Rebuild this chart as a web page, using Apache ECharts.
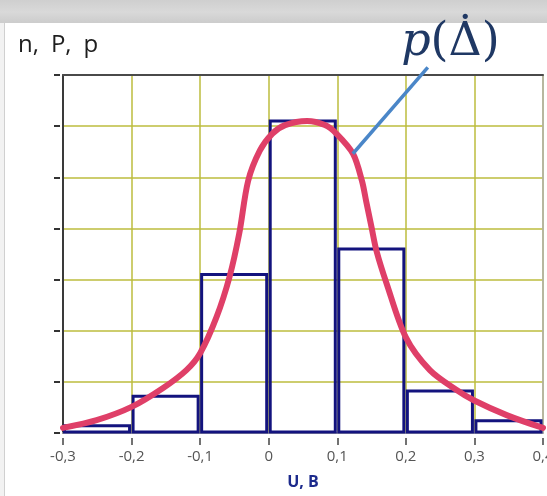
<!DOCTYPE html>
<html>
<head>
<meta charset="utf-8">
<script src="https://cdn.jsdelivr.net/npm/echarts@6/dist/echarts.min.js"></script>
<style>
  html, body { margin: 0; padding: 0; width: 547px; height: 496px; overflow: hidden; }
  body {
    background: linear-gradient(180deg, #cfcfcf 0px, #d9d9d9 12px, #cdcdcd 22px);
  }
  #sheet {
    position: absolute; left: 4px; top: 23px; right: 0; bottom: 0;
    background: #ffffff; border-left: 1px solid #d0d0d0;
  }
  #edge { position: absolute; left: 0; top: 23px; width: 4px; bottom: 0; background: #f2f2f2; }
  #chart { position: absolute; left: 0; top: 0; width: 547px; height: 496px; }
</style>
</head>
<body>
<div id="edge"></div>
<div id="sheet"></div>
<div id="chart"></div>
<script>
// Histogram bins (U, B) and their heights
const binEdges = [-0.3, -0.2, -0.1, 0, 0.1, 0.2, 0.3, 0.4];
const binCounts = [0.14, 0.72, 3.1, 6.1, 3.6, 0.82, 0.24];

// Density curve p(Δ) sampled along U
const curveU = [-0.3, -0.251, -0.2, -0.154, -0.12, -0.1, -0.076, -0.057, -0.043, -0.03, -0.013, 0.005, 0.024, 0.056,
                0.082, 0.099, 0.123, 0.136, 0.142, 0.15, 0.157, 0.172, 0.2, 0.235, 0.274, 0.299, 0.347, 0.4];
const curveP = [0.1, 0.25, 0.51, 0.88, 1.23, 1.56, 2.27, 3.06, 3.9, 4.93, 5.52, 5.85, 6.02, 6.1,
                6.02, 5.85, 5.46, 4.93, 4.54, 4.02, 3.57, 2.92, 1.87, 1.23, 0.84, 0.64, 0.35, 0.1];

// Axis tick labels
const xTickLabels = ['-0,3', '-0,2', '-0,1', '0', '0,1', '0,2', '0,3', '0,4'];
const tickStep = 0.1;

// Callout: curve point it points at, and where the formula sits
const calloutFrom = [0.1227, 5.46];
const calloutTo = [0.232, 7.15];
const calloutText = [0.265, 7.62];

const histData = binCounts.map((c, i) => [binEdges[i], binEdges[i + 1], c]);
const curveData = curveU.map((u, i) => [u, curveP[i]]);

const chart = echarts.init(document.getElementById('chart'), null, { renderer: 'canvas' });

const gridColor = '#bcbc3e';
const formulaColor = '#1f3864';
const formulaSize = 46;
const yLabelTitle = {
  type: 'text', left: 18, top: 33, z: 10,
  style: { text: 'n,\u2002P,\u2002p', fill: '#1e1e1e', font: '24px "Open Sans", sans-serif' }
};

chart.setOption({
  animation: false,
  backgroundColor: 'transparent',
  grid: { left: 63, right: 4, top: 75, bottom: 63, containLabel: false, outerBoundsMode: 'none' },
  xAxis: [
    {
      type: 'value', min: -0.3, max: 0.4, interval: tickStep,
      axisLine: { show: true, onZero: false, lineStyle: { color: '#a8a8a8', width: 2 } },
      axisTick: { show: false },
      axisLabel: { show: false },
      splitLine: { show: true, lineStyle: { color: gridColor, width: 1.5 } },
      name: 'U, B', nameLocation: 'middle', nameGap: 41,
      nameTextStyle: { color: '#1c2a8c', fontSize: 16, fontWeight: 'bold', fontFamily: 'Open Sans' }
    },
    {
      type: 'value', min: -0.3, max: 0.4, interval: tickStep, position: 'bottom', offset: 5,
      axisLine: { show: false, onZero: false },
      axisTick: { show: true, length: 7, lineStyle: { color: '#444', width: 1.5 } },
      axisLabel: {
        show: true, margin: 11, color: '#555', fontSize: 15, fontFamily: 'Open Sans',
        formatter: v => xTickLabels[Math.round((v - binEdges[0]) / tickStep)]
      },
      splitLine: { show: false }
    },
    {
      type: 'value', min: -0.3, max: 0.4, interval: tickStep, position: 'top',
      axisLine: { show: true, onZero: false, lineStyle: { color: '#4a4a4a', width: 2 } },
      axisTick: { show: false }, axisLabel: { show: false }, splitLine: { show: false }
    }
  ],
  yAxis: [
    {
      type: 'value', min: 0, max: 7, interval: 1, position: 'left',
      axisLine: { show: true, onZero: false, lineStyle: { color: '#3a3a3a', width: 2 } },
      axisTick: { show: false },
      axisLabel: { show: false },
      splitLine: { show: true, lineStyle: { color: gridColor, width: 1.5 } }
    },
    {
      type: 'value', min: 0, max: 7, interval: 1, position: 'left', offset: 3,
      axisLine: { show: false, onZero: false },
      axisTick: { show: true, length: 6, lineStyle: { color: '#333', width: 2 } },
      axisLabel: { show: false }, splitLine: { show: false }
    },
    {
      type: 'value', min: 0, max: 7, interval: 1, position: 'right',
      axisLine: { show: true, onZero: false, lineStyle: { color: '#b0b0b0', width: 1.5 } },
      axisTick: { show: false }, axisLabel: { show: false }, splitLine: { show: false }
    }
  ],
  series: [
    {
      type: 'custom',
      name: 'n',
      xAxisIndex: 0, yAxisIndex: 0,
      data: histData,
      encode: { x: [0, 1], y: 2 },
      renderItem: function (params, api) {
        const topLeft = api.coord([api.value(0), api.value(2)]);
        const bottomRight = api.coord([api.value(1), 0]);
        return {
          type: 'rect',
          shape: {
            x: topLeft[0] + 1.5,
            y: topLeft[1],
            width: bottomRight[0] - topLeft[0] - 3.5,
            height: bottomRight[1] - topLeft[1] - 1
          },
          style: { fill: 'none', stroke: '#13137e', lineWidth: 3 }
        };
      },
      z: 3
    },
    {
      type: 'line',
      name: 'p',
      xAxisIndex: 0, yAxisIndex: 0,
      data: curveData,
      smooth: 0.3,
      symbol: 'none',
      lineStyle: { color: '#df3f68', width: 6, cap: 'round', join: 'round' },
      z: 4
    }
  ],
  graphic: [yLabelTitle]
});

// Callout line and formula label, positioned through the grid's own scales
const a = chart.convertToPixel({ gridIndex: 0 }, calloutFrom);
const b = chart.convertToPixel({ gridIndex: 0 }, calloutTo);
const t = chart.convertToPixel({ gridIndex: 0 }, calloutText);

// Measure the formula pieces so the dot can sit over the Δ
const ctx = document.createElement('canvas').getContext('2d');
ctx.font = 'italic ' + formulaSize + 'px "DejaVu Serif"';
const wP = ctx.measureText('p').width;
ctx.font = formulaSize + 'px "DejaVu Serif"';
const wOpen = ctx.measureText('(').width;
const wDelta = ctx.measureText('Δ').width;
const wAll = wP + ctx.measureText('(Δ)').width;
const formulaLeft = t[0] - wAll / 2;
const dotX = formulaLeft + wP + wOpen + wDelta / 2;

chart.setOption({
  graphic: [
    yLabelTitle,
    {
      type: 'line', z: 20,
      shape: { x1: a[0], y1: a[1], x2: b[0], y2: b[1] },
      style: { stroke: '#4a86c8', lineWidth: 3.5 }
    },
    {
      type: 'text', z: 20, x: formulaLeft, y: t[1],
      style: {
        text: '{i|p}{n|(Δ)}',
        align: 'left', verticalAlign: 'middle',
        rich: {
          i: { fontFamily: 'DejaVu Serif', fontStyle: 'italic', fontSize: formulaSize, fill: formulaColor, color: formulaColor },
          n: { fontFamily: 'DejaVu Serif', fontSize: formulaSize, fill: formulaColor, color: formulaColor }
        }
      }
    },
    {
      type: 'text', z: 20, x: dotX, y: t[1] - 5,
      style: {
        text: '˙', align: 'center', verticalAlign: 'middle',
        fill: formulaColor, font: formulaSize + 'px "DejaVu Serif"'
      }
    }
  ]
});
</script>
</body>
</html>
